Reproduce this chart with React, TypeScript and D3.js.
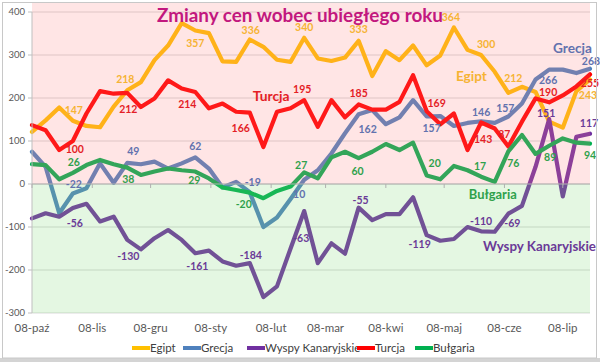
import React from "react";
import * as d3 from "d3";

// ---------- DATA ----------
const startDate = new Date(2008, 9, 1);
const weekCount = 42;
const monthLabels = ["08-paź", "08-lis", "08-gru", "08-sty", "08-lut", "08-mar", "08-kwi", "08-maj", "08-cze", "08-lip"];
const yTicks = [400, 300, 200, 100, 0, -100, -200, -300];

const egipt = [121, 148, 178, 147, 135, 132, 180, 218, 237, 288, 322, 374, 357, 351, 285, 284, 336, 319, 289, 284, 340, 292, 286, 294, 333, 251, 309, 288, 322, 276, 299, 364, 312, 300, 261, 212, 226, 214, 145, 131, 216, 243];
const grecja = [75, 40, -68, -22, -10, 48, 3, 49, 46, 52, 36, 48, 62, 36, -8, 5, -19, -100, -78, -35, 10, 32, 71, 118, 162, 172, 139, 155, 195, 157, 158, 135, 142, 146, 142, 157, 187, 243, 266, 266, 258, 268];
const wyspy = [-80, -68, -76, -56, -46, -87, -76, -130, -152, -126, -107, -130, -161, -155, -180, -190, -184, -263, -238, -150, -63, -184, -138, -162, -55, -84, -70, -70, -31, -119, -132, -128, -100, -110, -111, -69, -51, 40, 151, -29, 110, 117];
const turcja = [137, 125, 79, 100, 164, 216, 210, 212, 179, 199, 241, 222, 214, 176, 187, 168, 166, 86, 168, 176, 195, 133, 195, 155, 185, 173, 173, 191, 253, 169, 139, 164, 79, 143, 129, 87, 145, 199, 190, 206, 227, 255];
const bulgaria = [46, 44, 11, 26, 44, 56, 46, 38, 21, 29, 36, 32, 29, 13, -8, -14, -20, -33, -16, -6, 27, 13, 62, 75, 60, 75, 93, 79, 96, 20, 11, 42, 32, 17, 5, 76, 114, 70, 89, 106, 96, 94];

const seriesNames = ["Egipt", "Grecja", "Wyspy Kanaryjskie", "Turcja", "Bułgaria"];

// indices of points carrying a data label
const egiptLabelIdx = [3, 7, 12, 16, 20, 24, 31, 33, 35, 41];
const turcjaLabelIdx = [3, 7, 12, 16, 20, 24, 29, 33, 35, 38, 41];
const grecjaLabelIdx = [3, 7, 12, 16, 20, 24, 29, 33, 35, 38, 41];
const bulgariaLabelIdx = [3, 7, 12, 16, 20, 24, 29, 33, 35, 38, 41];
const wyspyLabelIdx = [3, 7, 12, 16, 20, 24, 29, 33, 35, 38, 41];

// ---------- STYLE / LAYOUT ----------
const W = 600, H = 362;
const plotLeft = 32, plotRight = 590, plotTop = 12, plotBottom = 313;
const lineColors: Record<string, string> = {
  Egipt: "#FFC000",
  Grecja: "#4F81BD",
  "Wyspy Kanaryjskie": "#7030A0",
  Turcja: "#FF0000",
  "Bułgaria": "#00B050",
};
const labelColors: Record<string, string> = {
  Egipt: "#F6B333",
  Grecja: "#6272AE",
  "Wyspy Kanaryjskie": "#6A3A97",
  Turcja: "#E41E26",
  "Bułgaria": "#2FA14C",
};
// label offsets (dx, dy) relative to the labelled point
const egiptOff = [[1, -10], [-2, -11], [0, 13], [1, -9], [0, -10], [0, -11], [-3, -10], [5, -11], [5, -15], [-2, 16]];
const turcjaOff = [[2, 8], [1, 16], [-8, 12], [-9, 16], [-2, -11], [0, -11], [10, -8], [2, 17], [-4, -12], [-1, -10], [0, 9]];
const grecjaOff = [[1, -9], [6, -12], [0, -11], [3, -10], [-5, 15], [9, 15], [5, 12], [0, -9], [-3, -8], [-1, 11], [1, -7]];
const bulgariaOff = [[1, -10], [1, 12], [-1, 9], [-6, 12], [-3, -7], [-1, 13], [8, -12], [-1, -10], [5, 12], [1, 12], [0, 12]];
const wyspyOff = [[2, 15], [1, 16], [2, 13], [1, -8], [-3, 27], [2, -7], [-7, 9], [0, -10], [4, 10], [-3, -6], [-1, -10]];

// series-name annotations (position in data coords: week index, value)
const nameNotes = [
  { name: "Egipt", i: 32.3, v: 251, len: 31, size: 13 },
  { name: "Grecja", i: 39.8, v: 317, len: 39, size: 14 },
  { name: "Turcja", i: 17.7, v: 205, len: 37, size: 13.5 },
  { name: "Bułgaria", i: 33.9, v: -23, len: 48, size: 13.5 },
  { name: "Wyspy Kanaryjskie", i: 37.3, v: -144, len: 113, size: 13.5 },
];
const legendX = [132, 183, 247, 357, 415];

const font = "Lato, 'Open Sans', sans-serif";

export default function App() {
  const dates = d3.range(weekCount).map((i) => d3.timeDay.offset(startDate, 7 * i));
  const x = d3.scaleTime().domain([startDate, d3.timeDay.offset(startDate, 287.7)]).range([plotLeft, plotRight]);
  const y = d3.scaleLinear().domain([-300, 400]).range([plotBottom, plotTop]);
  const xi = (i: number) => x(d3.timeDay.offset(startDate, 7 * i));

  const series = [
    { name: "Egipt", values: egipt, idx: egiptLabelIdx, off: egiptOff },
    { name: "Grecja", values: grecja, idx: grecjaLabelIdx, off: grecjaOff },
    { name: "Wyspy Kanaryjskie", values: wyspy, idx: wyspyLabelIdx, off: wyspyOff },
    { name: "Turcja", values: turcja, idx: turcjaLabelIdx, off: turcjaOff },
    { name: "Bułgaria", values: bulgaria, idx: bulgariaLabelIdx, off: bulgariaOff },
  ];

  const line = d3
    .line<number>()
    .x((_, i) => x(dates[i]))
    .y((d) => y(d));

  const months = d3.timeMonth.range(startDate, d3.timeDay.offset(startDate, 288)).slice(0, monthLabels.length);

  return (
    <svg width={W} height={H} style={{ position: "fixed", left: 0, top: 0, background: "#fff" }} fontFamily={font}>
      <rect x={0} y={0} width={W} height={H} fill="#ffffff" />
      <rect x={0} y={358} width={W} height={4} fill="#d4d4d4" />
      {/* gridlines */}
      {yTicks.map((t) => (
        <line key={t} x1={plotLeft} x2={plotRight} y1={y(t)} y2={y(t)} stroke="#d9d9d9" strokeWidth={1} />
      ))}
      {/* series lines */}
      {series.map((s) => (
        <path
          key={s.name}
          d={line(s.values) || ""}
          fill="none"
          stroke={lineColors[s.name]}
          strokeWidth={4.2}
          strokeLinejoin="round"
          strokeLinecap="round"
        />
      ))}
      {/* translucent coloured bands */}
      <rect x={plotLeft} y={3} width={plotRight - plotLeft} height={y(0) - 3} fill="#FF7F7F" opacity={0.2} />
      <rect x={plotLeft} y={y(0)} width={plotRight - plotLeft} height={y(-300) - y(0)} fill="#78D76E" opacity={0.2} />
      {/* axes */}
      <line x1={plotLeft} x2={plotLeft} y1={plotTop} y2={plotBottom} stroke="#bfbfbf" />
      <line x1={plotLeft} x2={plotRight} y1={y(0)} y2={y(0)} stroke="#b0b0b0" />
      {yTicks.map((t) => (
        <g key={"yt" + t}>
          <line x1={plotLeft - 4} x2={plotLeft} y1={y(t)} y2={y(t)} stroke="#bfbfbf" />
          <text x={plotLeft - 7} y={y(t)} dy="0.35em" textAnchor="end" fontSize={9.5} fill="#595959">
            {t}
          </text>
        </g>
      ))}
      {months.map((m, k) => (
        <g key={"m" + k}>
          <line x1={x(m)} x2={x(m)} y1={y(0)} y2={y(0) + 4} stroke="#b0b0b0" />
          <text x={x(m)} y={332} textAnchor="middle" fontSize={11.5} fill="#595959">
            {monthLabels[k]}
          </text>
        </g>
      ))}
      {/* data labels */}
      {series.map((s) =>
        s.idx.map((i, k) => (
          <text
            key={s.name + i}
            x={x(dates[i]) + s.off[k][0]}
            y={y(s.values[i]) + s.off[k][1]}
            dy="0.35em"
            textAnchor="middle"
            fontSize={10.5}
            fontWeight="bold"
            fill={labelColors[s.name]}
          >
            {s.values[i]}
          </text>
        ))
      )}
      {/* series name annotations */}
      {nameNotes.map((n) => (
        <text
          key={"n" + n.name}
          x={xi(n.i)}
          y={y(n.v)}
          dy="0.35em"
          textAnchor="middle"
          fontSize={n.size}
          fontWeight="bold"
          fill={labelColors[n.name]}
          textLength={n.len}
          lengthAdjust="spacingAndGlyphs"
        >
          {n.name}
        </text>
      ))}
      {/* title */}
      <text x={300} y={22} textAnchor="middle" fontSize={18} fontWeight="bold" fill="#C2187E" textLength={286} lengthAdjust="spacingAndGlyphs">
        Zmiany cen wobec ubiegłego roku
      </text>
      {/* legend */}
      {seriesNames.map((nm, k) => (
        <g key={"lg" + nm}>
          <line x1={legendX[k]} x2={legendX[k] + 18} y1={348} y2={348} stroke={lineColors[nm]} strokeWidth={4} />
          <text x={legendX[k] + 18} y={348} dy="0.35em" fontSize={11.5} fill="#404040">
            {nm}
          </text>
        </g>
      ))}
      {/* chart border */}
      <rect x={2.5} y={2.5} width={594} height={355.5} fill="none" stroke="#c8c8c8" />
    </svg>
  );
}
